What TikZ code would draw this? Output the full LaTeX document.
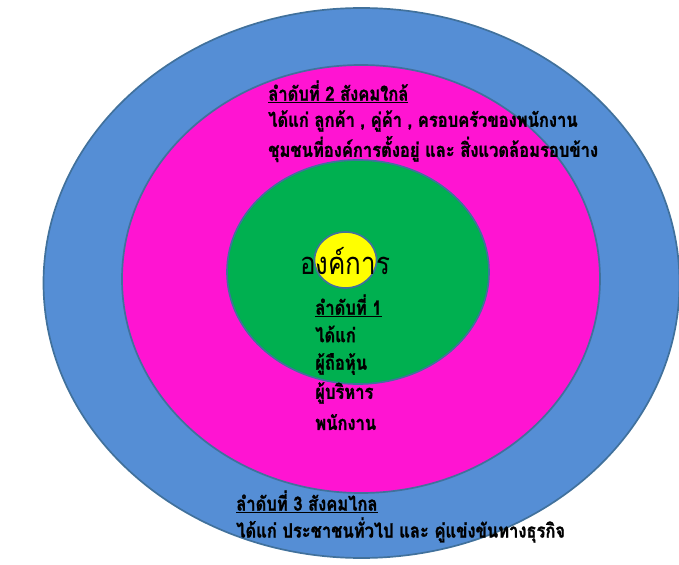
\documentclass[tikz,border=0pt]{standalone}
\usepackage{fontspec}
\newfontfamily\thaifont[Script=Thai, FakeStretch=0.84, BoldFeatures={FakeBold=1.2}]{Loma}
\usetikzlibrary{positioning}

\begin{document}
\begin{tikzpicture}[
  x=0.025cm, y=-0.025cm,
  ring/.style={draw=ringline, line width=1.2pt},
  rank/.style={font=\thaifont\bfseries\fontsize{14}{16}\selectfont, text=black, anchor=west, inner sep=0pt},
  head/.style={rank},
  core/.style={font=\thaifont\fontsize{22}{24}\selectfont, text=black, inner sep=0pt},
]
\definecolor{ringline}{HTML}{41719C}
\definecolor{outerblue}{HTML}{558ED5}
\definecolor{nearpink}{HTML}{FF14D2}
\definecolor{firstgreen}{HTML}{00B050}
\definecolor{coreyellow}{HTML}{FFFF00}

\useasboundingbox (0,0) rectangle (679,565);
\clip (0,0) rectangle (679,565);

% Coordinate system: one unit = one pixel of the reference, y downwards

% rings, outer to inner
\draw[ring, fill=outerblue] (361.5,283) ellipse [x radius=318, y radius=275];
\draw[ring, fill=nearpink] (361,279) ellipse [x radius=239, y radius=214];
\draw[ring, fill=firstgreen] (358,272) ellipse [x radius=131, y radius=112];
\draw[ring, fill=coreyellow] (345.5,260) ellipse [x radius=31, y radius=28];

\node[core] (org) at (345,261) {องค์การ};

% rank 2 : near society
\node[head] (near) at (268,92) {\underline{ลำดับที่ 2 สังคมใกล้}};
\node[rank] (nearA) at (268,121) {ได้แก่ ลูกค้า , คู่ค้า , ครอบครัวของพนักงาน};
\node[rank] (nearB) at (268,149) {ชุมชนที่องค์การตั้งอยู่ และ  สิ่งแวดล้อมรอบข้าง};

% rank 1 : inside the organisation
\node[head] (first) at (315,306) {\underline{ลำดับที่ 1}};
\foreach \y/\lab/\nm in {334/ได้แก่/firstA, 364/ผู้ถือหุ้น/firstB, 393/ผู้บริหาร/firstC, 422/พนักงาน/firstD} {
  \node[rank] (\nm) at (315,\y) {\lab};
}

% rank 3 : far society
\node[head] (far) at (236,502) {\underline{ลำดับที่ 3 สังคมไกล}};
\node[rank] (farA) at (236,530) {ได้แก่ ประชาชนทั่วไป และ คู่แข่งขันทางธุรกิจ};

\end{tikzpicture}
\end{document}
